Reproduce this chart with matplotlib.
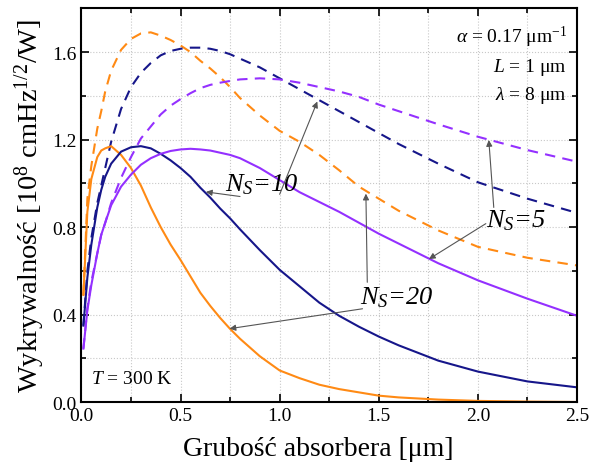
import matplotlib
matplotlib.use("Agg")
import matplotlib.pyplot as plt
from matplotlib.ticker import MultipleLocator

plt.rcParams["font.family"] = ["Liberation Serif", "DejaVu Serif"]
plt.rcParams["mathtext.fontset"] = "custom"
plt.rcParams["mathtext.rm"] = "Liberation Serif"
plt.rcParams["mathtext.it"] = "Liberation Serif:italic"

# grubość absorbera [um]
x = [0.01, 0.03, 0.05, 0.08, 0.1, 0.12, 0.15, 0.2, 0.25, 0.3, 0.35, 0.4, 0.45, 0.5, 0.55, 0.6,
     0.65, 0.7, 0.75, 0.8, 0.9, 1.0, 1.1, 1.2, 1.3, 1.4, 1.5, 1.6, 1.8, 2.0, 2.25, 2.5]

# N_S = 20 (pomarańczowy)
ns20_solid = [0.49, 0.87, 1.02, 1.12, 1.15, 1.16, 1.17, 1.13, 1.07, 0.99, 0.89, 0.80, 0.72, 0.65,
              0.575, 0.50, 0.44, 0.385, 0.335, 0.29, 0.21, 0.145, 0.11, 0.08, 0.06, 0.045, 0.03,
              0.022, 0.012, 0.006, 0.003, 0.001]
ns20_dash = [0.49, 0.93, 1.08, 1.25, 1.33, 1.42, 1.515, 1.61, 1.66, 1.685, 1.69, 1.675, 1.655, 1.63,
             1.60, 1.56, 1.525, 1.485, 1.44, 1.39, 1.31, 1.24, 1.19, 1.13, 1.06, 0.985, 0.93,
             0.875, 0.785, 0.71, 0.66, 0.625]
# N_S = 10 (granatowy)
ns10_solid = [0.35, 0.57, 0.72, 0.89, 0.97, 1.03, 1.09, 1.145, 1.165, 1.17, 1.16, 1.135, 1.105, 1.07,
              1.03, 0.98, 0.935, 0.885, 0.84, 0.79, 0.695, 0.605, 0.53, 0.455, 0.395, 0.345, 0.30,
              0.26, 0.19, 0.14, 0.095, 0.068]
ns10_dash = [0.35, 0.60, 0.75, 0.91, 0.99, 1.07, 1.19, 1.34, 1.44, 1.505, 1.55, 1.585, 1.605, 1.615,
             1.62, 1.62, 1.615, 1.605, 1.59, 1.57, 1.53, 1.48, 1.43, 1.38, 1.33, 1.28, 1.23, 1.18,
             1.09, 1.005, 0.93, 0.865]
# N_S = 5 (fioletowy)
ns5_solid = [0.245, 0.42, 0.535, 0.68, 0.765, 0.82, 0.90, 0.985, 1.04, 1.085, 1.115, 1.135, 1.148,
             1.155, 1.158, 1.155, 1.15, 1.14, 1.13, 1.115, 1.07, 1.015, 0.96, 0.915, 0.87, 0.82,
             0.77, 0.725, 0.635, 0.557, 0.473, 0.395]
ns5_dash = [0.245, 0.43, 0.55, 0.68, 0.765, 0.82, 0.91, 1.025, 1.12, 1.205, 1.26, 1.315, 1.355,
            1.385, 1.412, 1.435, 1.45, 1.46, 1.468, 1.475, 1.48, 1.475, 1.46, 1.44, 1.42, 1.395,
            1.36, 1.33, 1.27, 1.213, 1.152, 1.099]

orange = "#FF8A14"
navy = "#16168A"
purple = "#9430FF"

fig = plt.figure(figsize=(5.9, 4.64), dpi=100)
ax = fig.add_axes([0.138, 0.131, 0.84, 0.849])

dash = (5, 3.5)
ax.plot(x, ns20_dash, color=orange, lw=1.5, dashes=dash)
ax.plot(x, ns10_dash, color=navy, lw=1.5, dashes=dash)
ax.plot(x, ns5_dash, color=purple, lw=1.5, dashes=dash)
ax.plot(x, ns20_solid, color=orange, lw=1.5)
ax.plot(x, ns10_solid, color=navy, lw=1.5)
ax.plot(x, ns5_solid, color=purple, lw=1.5)

ax.set_xlim(0, 2.5)
ax.set_ylim(0, 1.8)
ax.xaxis.set_major_locator(MultipleLocator(0.5))
ax.xaxis.set_minor_locator(MultipleLocator(0.25))
ax.yaxis.set_major_locator(MultipleLocator(0.4))
ax.yaxis.set_minor_locator(MultipleLocator(0.2))
ax.grid(True, which="both", color="#c8c8c8", linestyle=":", lw=0.8)
ax.tick_params(which="both", direction="in", top=True, right=True, labelsize=14, width=1.2)
ax.tick_params(which="major", length=6)
ax.tick_params(which="minor", length=3.5)
for s in ax.spines.values():
    s.set_linewidth(1.5)

ax.set_xlabel("Grubość absorbera [μm]", fontsize=20)
ax.xaxis.set_label_coords(0.478, -0.085)
ax.set_ylabel(r"Wykrywalność [10$^8$ cmHz$^{1/2}$/W]", fontsize=20.5, labelpad=4)

# parametry
ax.text(2.45, 1.67, r"$\alpha$ = 0.17 μm$^{-1}$", fontsize=14, ha="right", va="center")
ax.text(2.45, 1.535, r"$L$ = 1 μm", fontsize=14, ha="right", va="center")
ax.text(2.45, 1.405, r"$\lambda$ = 8 μm", fontsize=14, ha="right", va="center")
ax.text(0.05, 0.11, r"$T$ = 300 K", fontsize=14, ha="left", va="center")

# opisy krzywych
arr = dict(arrowstyle="-|>", color="#555555", lw=0.8, mutation_scale=9, shrinkA=0, shrinkB=0)
ax.text(0.91, 1.0, r"$N_S$=10", fontsize=19, style="italic", ha="center", va="center")
ax.annotate("", xy=(0.628, 0.961), xytext=(0.80, 0.94), arrowprops=arr)
ax.annotate("", xy=(1.19, 1.374), xytext=(1.0, 0.95), arrowprops=arr)

ax.text(2.19, 0.835, r"$N_S$=5", fontsize=19, style="italic", ha="center", va="center")
ax.annotate("", xy=(2.055, 1.198), xytext=(2.08, 0.89), arrowprops=arr)
ax.annotate("", xy=(1.753, 0.654), xytext=(2.04, 0.816), arrowprops=arr)

ax.text(1.59, 0.48, r"$N_S$=20", fontsize=19, style="italic", ha="center", va="center")
ax.annotate("", xy=(1.435, 0.953), xytext=(1.442, 0.548), arrowprops=arr)
ax.annotate("", xy=(0.747, 0.336), xytext=(1.418, 0.427), arrowprops=arr)

plt.savefig("out.png", dpi=100)
